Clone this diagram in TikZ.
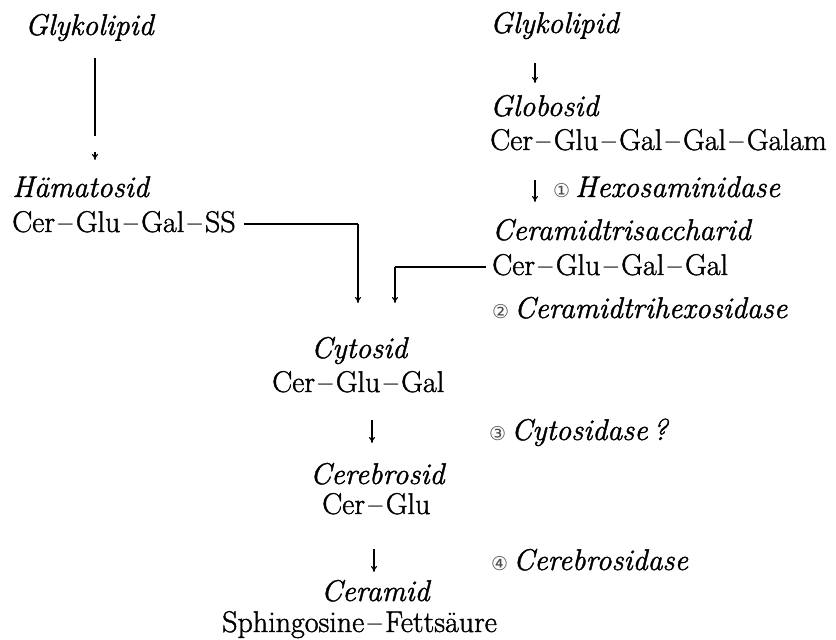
\documentclass[tikz,border=0pt]{standalone}
\usepackage{fontspec}
\setmainfont{Latin Modern Roman}[FakeBold=1.3]
\newfontfamily\symfont{DejaVu Sans}
\usetikzlibrary{arrows.meta}
\newcommand{\circnum}[1]{{\fontsize{19}{19}\selectfont\symfont\color{black!70}#1}}
\newcommand{\dsh}{\hspace{3.5pt}–\hspace{3.5pt}}
\begin{document}
\begin{tikzpicture}[x=1pt,y=-1pt,
  txt/.style={anchor=base west,inner sep=0pt,font=\fontsize{30}{36}\selectfont},
  itx/.style={txt,font=\fontsize{30}{36}\selectfont\itshape},
  conn/.style={line width=1.3pt},
  arr/.style={line width=1.1pt,-{To[length=6pt,width=6pt]}}]
\useasboundingbox (0,0) rectangle (836,640);
% left branch
\node[itx] (gl1) at (25,35) {Glykolipid};
\node[itx] (ham) at (12,197) {Hämatosid};
\node[txt] (cggss) at (12,232) {Cer\dsh Glu\dsh Gal\dsh SS};
\coordinate (l1a) at (95,58);
\coordinate (l1b) at (95,136);
\coordinate (l1c) at (95,152);
\coordinate (l1d) at (95,160);
\draw[conn] (l1a) -- (l1b);
\draw[arr] (l1c) -- (l1d);
% right branch
\node[itx] (gl2) at (490,33) {Glykolipid};
\node[itx] (glo) at (490,116) {Globosid};
\node[txt] (cggggal) at (490,150) {Cer\dsh Glu\dsh Gal\dsh Gal\dsh Galam};
\coordinate (r1a) at (535,63);
\coordinate (r1b) at (535,83);
\draw[arr] (r1a) -- (r1b);
\coordinate (r2a) at (535,180);
\coordinate (r2b) at (535,202);
\draw[arr] (r2a) -- (r2b);
\node[itx] (hex) at (553,197) {\circnum{①}\,Hexosaminidase};
\node[itx] (cts) at (492,240) {Ceramidtrisaccharid};
\node[txt] (cggg) at (492,275) {Cer\dsh Glu\dsh Gal\dsh Gal};
\node[itx] (cth) at (492,318) {\circnum{②}\,Ceramidtrihexosidase};
% joins
\coordinate (j1) at (358,224);
\coordinate (j1e) at (358,303);
\draw[conn] ([xshift=8pt]cggss.east|-j1) -- (j1);
\draw[arr] (j1) -- (j1e);
\coordinate (j2) at (395,267);
\coordinate (j2e) at (395,303);
\draw[conn] ([xshift=-6pt]cggg.west|-j2) -- (j2);
\draw[arr] (j2) -- (j2e);
% central column
\node[itx] (cyt) at (311,358) {Cytosid};
\node[txt] (cgg) at (272,392) {Cer\dsh Glu\dsh Gal};
\coordinate (c1a) at (372,420);
\coordinate (c1b) at (372,443);
\draw[arr] (c1a) -- (c1b);
\node[itx] (cyd) at (489,440) {\circnum{③}\,Cytosidase\,?};
\node[itx] (cer) at (310,484) {Cerebrosid};
\node[txt] (cg) at (322,514) {Cer\dsh Glu};
\coordinate (c2a) at (374,549);
\coordinate (c2b) at (374,572);
\draw[arr] (c2a) -- (c2b);
\node[itx] (cbd) at (491,570) {\circnum{④}\,Cerebrosidase};
\node[itx] (cmd) at (321,601) {Ceramid};
\node[txt] (sph) at (222,632) {Sphingosine\dsh Fettsäure};
\end{tikzpicture}
\end{document}
